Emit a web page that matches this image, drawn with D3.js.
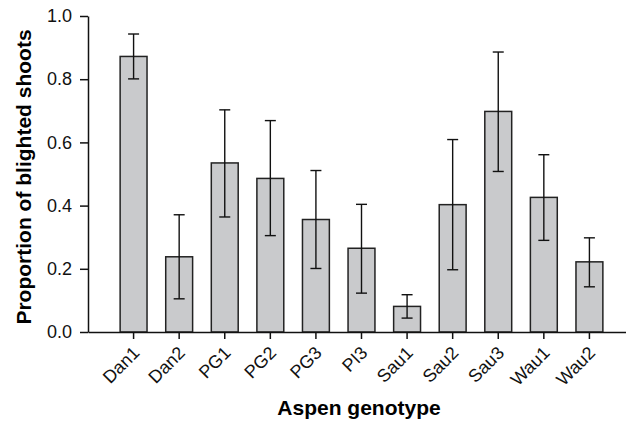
<!DOCTYPE html>
<html>
<head>
<meta charset="utf-8">
<script src="https://cdn.jsdelivr.net/npm/d3@7"></script>
<style>
  body { margin: 0; background: #fff; }
  text { font-family: "Liberation Sans", Arial, sans-serif; }
</style>
</head>
<body>
<div id="chart"></div>
<script>
// data
const genotypes = ["Dan1", "Dan2", "PG1", "PG2", "PG3", "PI3", "Sau1", "Sau2", "Sau3", "Wau1", "Wau2"]
const proportion = [0.872, 0.238, 0.535, 0.486, 0.356, 0.265, 0.081, 0.403, 0.698, 0.426, 0.222]
const upperErr = [0.943, 0.371, 0.703, 0.669, 0.511, 0.404, 0.118, 0.609, 0.886, 0.561, 0.298]
const lowerErr = [0.801, 0.105, 0.364, 0.305, 0.201, 0.123, 0.044, 0.197, 0.508, 0.290, 0.143]
const yTicks = [0, 0.2, 0.4, 0.6, 0.8, 1.0]

const width = 626
const height = 421
const plotLeft = 88
const plotRight = 635
const plotTop = 16
const plotBottom = 332

const data = genotypes.map((g, i) => ({
  genotype: g, value: proportion[i], hi: upperErr[i], lo: lowerErr[i]
}))

const svg = d3.select("#chart")
  .append("svg")
  .attr("width", width)
  .attr("height", height)

// scales
const x = d3.scaleBand()
  .domain(genotypes)
  .range([plotLeft, plotRight])
  .paddingInner(0.41)
  .paddingOuter(0.705)

const y = d3.scaleLinear()
  .domain([0, 1])
  .range([plotBottom, plotTop])

// bars
svg.selectAll("rect.bar")
  .data(data)
  .enter()
  .append("rect")
  .attr("class", "bar")
  .attr("x", d => x(d.genotype))
  .attr("width", x.bandwidth())
  .attr("y", d => y(d.value))
  .attr("height", d => y(0) - y(d.value))
  .attr("fill", "#c9cacc")
  .attr("stroke", "#222")
  .attr("stroke-width", 1.5)

// error bars
const cap = 5.5
const mid = d => x(d.genotype) + x.bandwidth() / 2
const err = svg.append("g")
  .attr("stroke", "#111")
  .attr("stroke-width", 1.4)

err.selectAll("line.stem")
  .data(data)
  .enter()
  .append("line")
  .attr("x1", mid)
  .attr("x2", mid)
  .attr("y1", d => y(d.hi))
  .attr("y2", d => y(d.lo))

err.selectAll("line.hicap")
  .data(data)
  .enter()
  .append("line")
  .attr("x1", d => mid(d) - cap)
  .attr("x2", d => mid(d) + cap)
  .attr("y1", d => y(d.hi))
  .attr("y2", d => y(d.hi))

err.selectAll("line.locap")
  .data(data)
  .enter()
  .append("line")
  .attr("x1", d => mid(d) - cap)
  .attr("x2", d => mid(d) + cap)
  .attr("y1", d => y(d.lo))
  .attr("y2", d => y(d.lo))

// y axis
const yAxis = svg.append("g")
  .attr("transform", `translate(${plotLeft}, 0)`)
  .call(d3.axisLeft(y).tickValues(yTicks).tickFormat(d3.format(".1f")).tickSize(8).tickPadding(8).tickSizeOuter(0))

yAxis.selectAll("text")
  .style("font-size", "18px")
  .attr("fill", "#111")

// x axis
const xAxis = svg.append("g")
  .attr("transform", `translate(0, ${plotBottom})`)
  .call(d3.axisBottom(x).tickSize(7).tickSizeOuter(0))

xAxis.selectAll("text")
  .style("font-size", "18px")
  .attr("fill", "#111")
  .attr("text-anchor", "end")
  .attr("x", 0)
  .attr("y", 0)
  .attr("dy", 0)
  .attr("transform", "translate(7, 22) rotate(-45)")

svg.selectAll(".domain, .tick line")
  .attr("stroke", "#111")
  .attr("stroke-width", 1.5)

// titles
svg.append("text")
  .attr("x", -177)
  .attr("y", 31)
  .attr("transform", "rotate(-90)")
  .attr("text-anchor", "middle")
  .style("font-size", "21px")
  .attr("font-weight", "bold")
  .text("Proportion of blighted shoots")

svg.append("text")
  .attr("x", 359)
  .attr("y", 415)
  .attr("text-anchor", "middle")
  .style("font-size", "21px")
  .attr("font-weight", "bold")
  .text("Aspen genotype")
</script>
</body>
</html>
